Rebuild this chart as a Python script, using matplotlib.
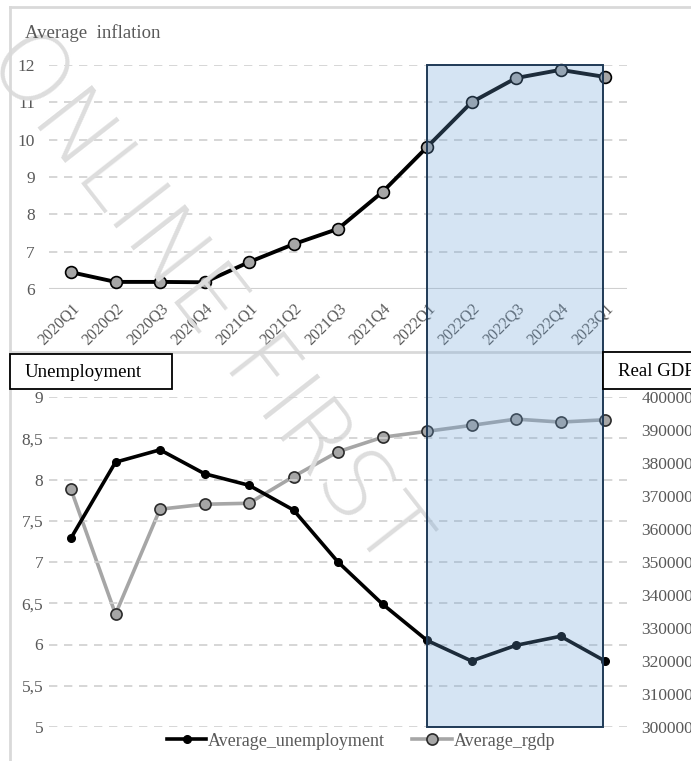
import matplotlib
matplotlib.use("Agg")
import matplotlib.pyplot as plt
from matplotlib.patches import Rectangle
from matplotlib.lines import Line2D
from matplotlib.transforms import blended_transform_factory
from matplotlib.ticker import FuncFormatter

plt.rcParams['font.family'] = ['Liberation Serif', 'DejaVu Serif']

quarters = ['2020Q1', '2020Q2', '2020Q3', '2020Q4', '2021Q1', '2021Q2', '2021Q3',
            '2021Q4', '2022Q1', '2022Q2', '2022Q3', '2022Q4', '2023Q1']
avg_inflation = [6.45, 6.19, 6.19, 6.18, 6.72, 7.20, 7.61, 8.60, 9.80, 11.00, 11.65, 11.87, 11.68]
avg_unemployment = [7.29, 8.21, 8.36, 8.07, 7.93, 7.63, 7.00, 6.49, 6.05, 5.80, 5.99, 6.10, 5.80]
avg_rgdp = [372000, 334200, 366000, 367500, 367800, 375900, 383400, 387800, 389600,
            391400, 393300, 392400, 393100]
highlight = ('2022Q1', '2023Q1')

W, H = 691, 761
fig = plt.figure(figsize=(W / 100, H / 100), dpi=100)
fig.patch.set_facecolor('white')

TXT = '#595959'
GRID = '#d0d0d0'
GREY = '#a6a6a6'

def fx(px):
    return px / W

def fy(py):
    return 1 - py / H

x = list(range(len(quarters)))
left, right = 48.75, 627.25

# ---- top panel: inflation ----
ax1 = fig.add_axes([fx(left), fy(289), fx(right - left), fy(65) - fy(289)])
ax1.set_facecolor('none')
ax1.set_xlim(-0.5, len(quarters) - 0.5)
ax1.set_ylim(6, 12)
for v in range(7, 13):
    ax1.axhline(v, color=GRID, lw=1.2, ls=(0, (5, 4)), zorder=1)
ax1.axhline(6, color=GRID, lw=1.5, zorder=1)
ax1.plot(x, avg_inflation, color='black', lw=2.8, marker='o', ms=8.5,
         mfc=GREY, mec='black', mew=1.2, zorder=3, clip_on=False)
for s in ax1.spines.values():
    s.set_visible(False)
ax1.set_yticks(range(6, 13))
ax1.set_xticks(x)
ax1.set_xticklabels(quarters, rotation=45, ha='right', va='top', rotation_mode='anchor')
ax1.tick_params(axis='both', length=0, colors=TXT, labelsize=12)
ax1.tick_params(axis='x', pad=8, labelsize=11.5)
ax1.tick_params(axis='y', pad=10, labelsize=12.5)
fig.text(fx(25), fy(33), 'Average  inflation', color=TXT, fontsize=13.5,
         ha='left', va='center')

# ---- bottom panel: unemployment and real GDP ----
ax2 = fig.add_axes([fx(left), fy(727), fx(right - left), fy(397) - fy(727)])
ax2.set_facecolor('none')
ax2.set_xlim(-0.5, len(quarters) - 0.5)
ax2.set_ylim(5, 9)
for v in [5, 5.5, 6, 6.5, 7, 7.5, 8, 8.5, 9]:
    ax2.axhline(v, color=GRID, lw=1.2, ls=(0, (5, 4)), zorder=1)
ax2.set_yticks([5, 5.5, 6, 6.5, 7, 7.5, 8, 8.5, 9])
ax2.yaxis.set_major_formatter(FuncFormatter(lambda v, p: f'{v:g}'.replace('.', ',')))
ax2.set_xticks([])
ax2.tick_params(axis='y', length=0, colors=TXT, labelsize=12.5, pad=4)
for s in ax2.spines.values():
    s.set_visible(False)

ax3 = ax2.twinx()
ax3.set_facecolor('none')
ax3.set_ylim(300000, 400000)
ax3.set_yticks(range(300000, 400001, 10000))
ax3.tick_params(axis='y', length=0, colors=TXT, labelsize=12.5, pad=10)
for s in ax3.spines.values():
    s.set_visible(False)

l_rgdp, = ax3.plot(x, avg_rgdp, color=GREY, lw=2.6, marker='o', ms=8,
                   mfc=GREY, mec='#2b2b2b', mew=1.2, zorder=3, clip_on=False)
l_unemp, = ax2.plot(x, avg_unemployment, color='black', lw=2.6, marker='o', ms=5.5,
                    mfc='black', mec='black', zorder=4, clip_on=False)
ax2.set_zorder(ax3.get_zorder() + 1)

fig.legend([l_unemp, l_rgdp], ['Average_unemployment', 'Average_rgdp'],
           loc='center', bbox_to_anchor=(fx(361), fy(741)), ncol=2, frameon=False,
           fontsize=13, labelcolor=TXT, handlelength=2.2, handletextpad=0.1,
           columnspacing=1.5)

# ---- watermark ----
fig.text(fx(205), fy(300), 'ONLINE FIRST', rotation=-52, fontsize=68,
         family='DejaVu Sans', fontweight='light', color='#dddddd',
         ha='center', va='center', zorder=0.5)

# ---- frame lines ----
border = dict(color='#d9d9d9', lw=2)
fig.add_artist(Line2D([fx(10), 1], [fy(7), fy(7)], **border))
fig.add_artist(Line2D([fx(10), fx(10)], [fy(7), 0], **border))
fig.add_artist(Line2D([fx(10), 1], [fy(352), fy(352)], **border))

# ---- axis title boxes ----
fig.add_artist(Rectangle((fx(10), fy(389)), fx(162), fy(354) - fy(389),
                         transform=fig.transFigure, fc='white', ec='black', lw=1.3, zorder=6))
fig.text(fx(25), fy(372), 'Unemployment', fontsize=13.5, color='black',
         ha='left', va='center', zorder=7)
fig.add_artist(Rectangle((fx(603), fy(389)), fx(100), fy(352) - fy(389),
                         transform=fig.transFigure, fc='white', ec='black', lw=1.3, zorder=6))
fig.text(fx(618), fy(371), 'Real GDP', fontsize=13.5, color='black',
         ha='left', va='center', zorder=7)

# ---- highlighted period spanning both panels ----
tr = blended_transform_factory(ax1.transData, fig.transFigure)
x0 = quarters.index(highlight[0])
x1 = quarters.index(highlight[1]) - 0.04
y0, y1 = fy(727), fy(65)
fig.add_artist(Rectangle((x0, y0), x1 - x0, y1 - y0, transform=tr,
                         fc=(107 / 255, 161 / 255, 214 / 255, 0.28), ec='none', zorder=5))
fig.add_artist(Rectangle((x0, y0), x1 - x0, y1 - y0, transform=tr,
                         fc='none', ec='#1f3a56', lw=1.4, zorder=5))

fig.savefig('out.png', dpi=100, facecolor='white')
